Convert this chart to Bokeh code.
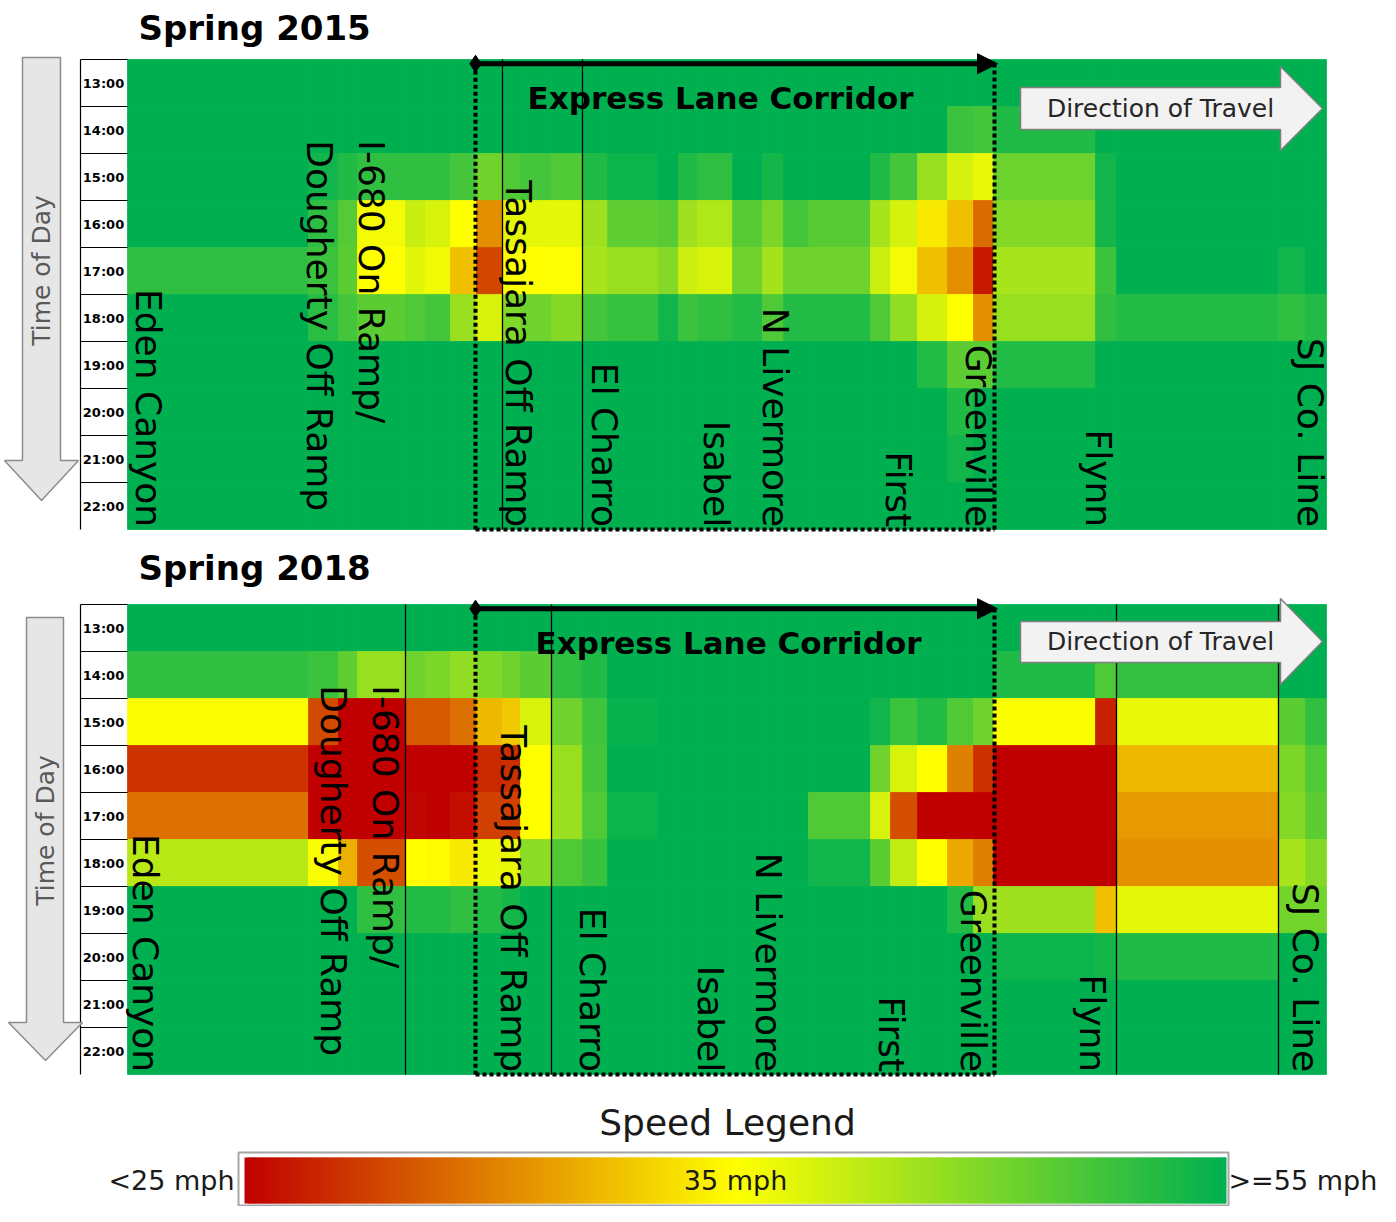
import math
from bokeh.plotting import figure
from bokeh.models import Range1d, Arrow, NormalHead
from bokeh.layouts import column
from bokeh.core.properties import value
from bokeh.embed import file_html
from bokeh.resources import INLINE

# ---------------- data ----------------
HOURS = [13, 14, 15, 16, 17, 18, 19, 20, 21, 22]
HOUR_LABELS = ["13:00", "14:00", "15:00", "16:00", "17:00", "18:00", "19:00", "20:00", "21:00", "22:00"]

# segment boundaries along the corridor (relative distance units, west -> east)
SEG_EDGES = [0, 181, 211, 230, 278, 298, 323, 349, 375, 393, 424, 455, 480, 531, 551, 570,
             605, 635, 656, 681, 743, 763, 790, 820, 846, 866, 968, 989, 1151, 1178, 1199]

# average speed (mph) per hour (rows) and segment (columns)
SPEED_2015 = [
    [55]*30,
    [55]*23 + [50.3, 49.7, 52.5, 55, 55, 55, 55],
    [55, 53.7, 52.5, 51.2, 51.2, 51.2, 49.7, 46.2, 48.7, 49.7, 48.7, 52.5, 54, 55, 52.5, 51.5, 55, 53.4, 55, 55,
     52.5, 49.7, 43.1, 38.4, 36.8, 46.5, 53.7, 55, 55, 55],
    [55, 51.5, 48.3, 35.9, 39.3, 38.1, 35, 30.6, 37.1, 37.1, 37.1, 42.5, 47.5, 48.1, 42.5, 41.2, 48.1, 45.3, 49.7, 48.1,
     41.8, 38.4, 34.1, 32.5, 29.2, 44.6, 53.4, 55, 55, 55],
    [51.4, 50.3, 47.8, 35, 37.4, 36.2, 32.5, 27.8, 35.3, 35, 35.2, 41.8, 43, 44.6, 39, 38.1, 46.2, 42.1, 46.2, 46.2,
     39, 35.9, 32.5, 30.6, 25.9, 41.8, 50.3, 55, 53.7, 55],
    [55, 51.7, 49.7, 47.8, 48.7, 49.7, 43.1, 38.1, 45, 46.2, 44.6, 49.7, 50.8, 53.7, 50.3, 51.2, 52.3, 48.7, 52.3, 52.3,
     48.7, 43.7, 38.4, 35, 30.6, 43.1, 51.2, 52.3, 51.2, 52.3],
    [55]*22 + [52.3, 47.8, 47.8, 52.3, 55, 55, 55, 55],
    [55]*23 + [52.5, 55, 55, 55, 55, 55, 55],
    [55]*23 + [53.7, 55, 55, 55, 55, 55, 55],
    [55]*30,
]

SPEED_2018 = [
    [55]*30,
    [51.2, 50.3, 47.5, 43.1, 46.2, 45.3, 43.7, 45, 46.2, 47.8, 51.2, 52.5, 55, 55, 55, 55, 55, 55, 55, 55,
     55, 55, 55, 55, 55, 52.5, 48.7, 51, 55, 55],
    [35.3, 27.9, 25, 25, 28.5, 28.5, 29.4, 32.2, 32.8, 38.1, 46.2, 50, 54.5, 55, 55, 55, 55, 55, 55, 55,
     53.7, 50.3, 52.3, 48.7, 46.2, 35.3, 26.3, 36.8, 47.8, 51.2],
    [27, 25, 25, 25, 25, 25, 25, 26.6, 26.8, 35, 43.1, 49.7, 55, 55, 55, 55, 55, 55, 55, 55,
     46.2, 38.1, 35, 30, 26.9, 25, 25, 32.2, 45.3, 48.7],
    [29.4, 25, 25, 25, 25.2, 25, 25.6, 27.5, 27.5, 35, 42.9, 48.7, 54, 55, 55, 55, 55, 55, 55, 48.7,
     38.1, 28.1, 25, 25, 25, 25, 25, 31, 44.6, 47.8],
    [40.6, 35.3, 31.9, 28.1, 35, 34.8, 34.1, 36.3, 36.8, 44, 48.7, 50.5, 55, 55, 55, 55, 55, 55, 55, 53.7,
     47.8, 39.9, 35, 31.6, 30, 25, 25, 30.6, 41.8, 44.6],
    [55, 55, 55, 51.2, 52.3, 52.3, 51.2, 52.3, 53.4, 55, 55, 55, 55, 55, 55, 55, 55, 55, 55, 55,
     55, 55, 55, 52.3, 42.9, 42.5, 32.5, 37.1, 46, 46],
    [55]*25 + [54, 53.4, 52.5, 55, 55],
    [55]*30,
    [55]*30,
]

SEGMENT_LABELS = ["Eden Canyon", "I-680 On Ramp/\nDougherty Off Ramp", "Tassajara Off Ramp", "El Charro",
                  "Isabel", "N Livermore", "First", "Greenville", "Flynn", "SJ Co. Line"]
LABEL_POS_2015 = [21, 218, 391, 477, 589, 648, 771, 851, 971, 1183]
LABEL_POS_2018 = [18, 232, 386, 465, 583, 641, 764, 846, 965, 1178]

CORRIDOR = [348, 867]            # express lane corridor extent
DIVIDERS_2015 = [375, 455]
DIVIDERS_2018 = [278, 424, 989, 1151]

LEGEND_TEXT = ["<25 mph", "35 mph", ">=55 mph"]

# ---------------- helpers ----------------
RED = (192, 0, 0)
YEL = (255, 255, 0)
GRN = (0, 176, 80)


def lerp(a, b, t):
    return tuple(int(round(a[k] + (b[k] - a[k]) * t)) for k in range(3))


def speed_color(s):
    s = max(25.0, min(55.0, float(s)))
    if s <= 35:
        c = lerp(RED, YEL, (s - 25) / 10.0)
    else:
        c = lerp(YEL, GRN, (s - 35) / 20.0)
    return "#%02x%02x%02x" % c


FONT = value("DejaVu Sans")
PX_PER_HOUR = 47.0
HEAT_LEFT_REF = 127
WIDTH = 1380


def make_panel(title, speeds, label_pos, dividers, heat_top_ref, fig_top_ref, height, first):
    y_top = 13 - (heat_top_ref - fig_top_ref) / PX_PER_HOUR
    y_bot = y_top + height / PX_PER_HOUR
    p = figure(width=WIDTH, height=height,
               x_range=Range1d(-HEAT_LEFT_REF, WIDTH - HEAT_LEFT_REF), y_range=Range1d(y_bot, y_top),
               output_backend="svg", toolbar_location=None, x_axis_type=None, y_axis_type=None,
               min_border=0, outline_line_color=None)
    p.grid.visible = False

    def rx(x):
        return x - HEAT_LEFT_REF

    def ry(y):
        return 13 + (y - heat_top_ref) / PX_PER_HOUR

    # heatmap
    L, R, T, B, C = [], [], [], [], []
    for i, h in enumerate(HOURS):
        for j in range(len(SEG_EDGES) - 1):
            L.append(SEG_EDGES[j]); R.append(SEG_EDGES[j + 1])
            T.append(h); B.append(h + 1)
            C.append(speed_color(speeds[i][j]))
    p.quad(left=L, right=R, top=T, bottom=B, fill_color=C, line_color=C, line_width=0.8)

    # time label box
    p.segment(x0=[rx(80)], y0=[HOURS[0]], x1=[rx(80)], y1=[HOURS[-1] + 1], line_color="black", line_width=1.2)
    p.segment(x0=[rx(80)] * len(HOURS), y0=HOURS, x1=[0] * len(HOURS), y1=HOURS,
              line_color="black", line_width=1.2)
    p.text(x=[rx(103)] * len(HOURS), y=[h + 0.5 for h in HOURS], text=HOUR_LABELS,
           text_font=FONT, text_font_style="bold", text_font_size="13px",
           text_align="center", text_baseline="middle", text_color="black")

    # dividers
    p.segment(x0=dividers, y0=[HOURS[0]] * len(dividers), x1=dividers, y1=[HOURS[-1] + 1] * len(dividers),
              line_color="black", line_width=1.3)

    # corridor dotted box
    yc = 13.09
    c0, c1 = CORRIDOR
    p.multi_line(xs=[[c0, c0], [c0, c1], [c1, c1]], ys=[[yc, 23.0], [23.0, 23.0], [23.0, yc]],
                 line_color="black", line_width=4, line_dash="4 3")
    p.add_layout(Arrow(end=NormalHead(size=20, fill_color="black", line_color="black"),
                       x_start=c0, y_start=yc, x_end=c1 + 3, y_end=yc,
                       line_color="black", line_width=5))
    p.scatter(x=[c0], y=[yc], marker="diamond", size=17, color="black")
    corr_x = 720 if first else 728
    p.text(x=[rx(corr_x)], y=[ry(heat_top_ref + 38)], text=["Express Lane Corridor"],
           text_font=FONT, text_font_style="bold", text_font_size="31px",
           text_align="center", text_baseline="middle", text_color="black")

    # direction of travel arrow
    if first:
        ya, yb, yt, yh0, yh1 = 87, 129, 108, 66, 150
    else:
        ya, yb, yt, yh0, yh1 = 621, 662, 641, 598, 684
    dx = [1020, 1280, 1280, 1322, 1280, 1280, 1020]
    dy = [ya, ya, yh0, yt, yh1, yb, yb]
    p.patch(x=[rx(v) for v in dx], y=[ry(v) for v in dy], fill_color="#f2f2f2", line_color="#7f7f7f",
            line_width=1.5)
    p.text(x=[rx(1160)], y=[ry(yt)], text=["Direction of Travel"], text_font=FONT, text_font_size="25px",
           text_align="center", text_baseline="middle", text_color="#262626")

    # time of day arrow
    if first:
        sx0, sx1, hx0, hx1, tx, sy0, hy, ty, lab_y = 22, 60, 4, 78, 41, 57, 460, 500, 270
    else:
        sx0, sx1, hx0, hx1, tx, sy0, hy, ty, lab_y = 26, 63, 8, 82, 45, 617, 1022, 1060, 830
    tx_ = [sx0, sx1, sx1, hx1, tx, hx0, sx0]
    ty_ = [sy0, sy0, hy, hy, ty, hy, hy]
    p.patch(x=[rx(v) for v in tx_], y=[ry(v) for v in ty_], fill_color="#e6e6e6", line_color="#8c8c8c",
            line_width=1.5)
    p.text(x=[rx(tx)], y=[ry(lab_y)], text=["Time of Day"], angle=math.pi / 2, text_font=FONT,
           text_font_size="25px", text_align="center", text_baseline="middle", text_color="#595959")

    # segment labels (rotated)
    end_y = 22.95
    xs_b = [x for k, x in enumerate(label_pos) if k != 1]
    ts_b = [t for k, t in enumerate(SEGMENT_LABELS) if k != 1]
    p.text(x=xs_b, y=[end_y] * len(xs_b), text=ts_b, angle=-math.pi / 2, text_font=FONT,
           text_font_size="36px", text_align="right", text_baseline="middle", text_color="black")
    p.text(x=[label_pos[1]], y=[14.72], text=[SEGMENT_LABELS[1]], angle=-math.pi / 2, text_font=FONT,
           text_font_size="36px", text_align="left", text_baseline="middle", text_color="black",
           text_line_height=1.25)

    # title
    title_y = 27 if first else 567
    p.text(x=[rx(138)], y=[ry(title_y)], text=[title], text_font=FONT, text_font_style="bold",
           text_font_size="34px", text_align="left", text_baseline="middle", text_color="black")
    return p


p1 = make_panel("Spring 2015", SPEED_2015, LABEL_POS_2015, DIVIDERS_2015, 59, 0, 540, True)
p2 = make_panel("Spring 2018", SPEED_2018, LABEL_POS_2018, DIVIDERS_2018, 604, 540, 538, False)

# ---------------- legend ----------------
BAR_L, BAR_W = 244, 982
LEG_H = 128
q = figure(width=WIDTH, height=LEG_H, x_range=Range1d((0 - BAR_L) / BAR_W, (WIDTH - BAR_L) / BAR_W),
           y_range=Range1d(LEG_H, 0), output_backend="svg", toolbar_location=None,
           x_axis_type=None, y_axis_type=None, min_border=0, outline_line_color=None)
q.grid.visible = False


def frac_to_speed(f):
    return 25 + f * 20 if f <= 0.5 else 35 + (f - 0.5) * 40


N = 300
fl = [i / N for i in range(N)]
fr = [min(1.0, (i + 1.8) / N) for i in range(N)]
fc = [speed_color(frac_to_speed((i + 0.5) / N)) for i in range(N)]
q.quad(left=fl, right=fr, top=[79] * N, bottom=[125] * N, fill_color=fc, line_color=None)
q.quad(left=[-6 / BAR_W], right=[(1228 - BAR_L) / BAR_W], top=[74], bottom=[127],
       fill_color=None, line_color="#a6a6a6", line_width=2)
q.text(x=[(727 - BAR_L) / BAR_W], y=[44], text=["Speed Legend"], text_font=FONT, text_font_size="36px",
       text_align="center", text_baseline="middle", text_color="#1a1a1a")
q.text(x=[(234 - BAR_L) / BAR_W, 0.5, (1228 - BAR_L) / BAR_W], y=[102, 102, 102], text=LEGEND_TEXT,
       text_font=FONT, text_font_size="27px", text_align=["right", "center", "left"],
       text_baseline="middle", text_color="#1a1a1a")

layout = column(p1, p2, q, spacing=0)
open("out.html", "w").write(file_html(layout, INLINE))
